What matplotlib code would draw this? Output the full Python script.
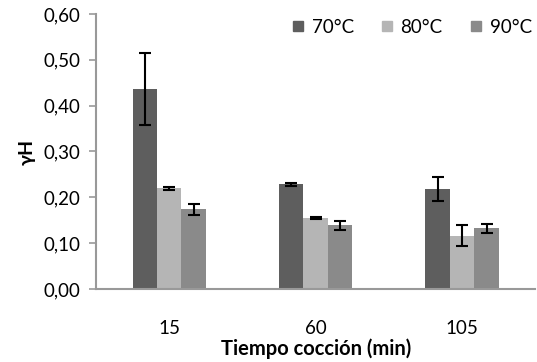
import matplotlib.pyplot as plt
from matplotlib.lines import Line2D
import numpy as np

tiempos = ["15", "60", "105"]
series = ["70°C", "80°C", "90°C"]
valores = [
    [0.436, 0.228, 0.218],  # 70°C
    [0.220, 0.154, 0.116],  # 80°C
    [0.174, 0.139, 0.132],  # 90°C
]
errores = [
    [0.078, 0.004, 0.027],
    [0.003, 0.002, 0.023],
    [0.012, 0.010, 0.009],
]
colores = ["#5e5e5e", "#b5b5b5", "#8a8a8a"]
yticks = [0.0, 0.1, 0.2, 0.3, 0.4, 0.5, 0.6]

plt.rcParams['font.family'] = ['Lato', 'DejaVu Sans']

fig = plt.figure(figsize=(5.37, 3.62), dpi=100)
ax = fig.add_axes([0.1788, 0.2017, 0.8182, 0.7596])

x = np.arange(len(tiempos))
w = 0.1672
for i, (nombre, vals, errs, col) in enumerate(zip(series, valores, errores, colores)):
    ax.bar(x + (i - 1) * w, vals, w, color=col, label=nombre,
           yerr=errs, error_kw=dict(ecolor="black", elinewidth=1.5, capsize=4, capthick=1.5))

ax.set_xlim(-0.5, 2.5)
ax.set_ylim(0, 0.6)
ax.set_xticks(x)
ax.set_xticklabels(tiempos, fontsize=13.5)
ax.set_yticks(yticks)
ax.set_yticklabels([f"{v:.2f}".replace(".", ",") for v in yticks], fontsize=13.5)
ax.tick_params(axis="x", length=0, pad=22)
ax.tick_params(axis="y", length=5, color="#999999", width=1.2, pad=6)
for s in ["top", "right"]:
    ax.spines[s].set_visible(False)
for s in ["left", "bottom"]:
    ax.spines[s].set_color("#999999")
    ax.spines[s].set_linewidth(1.5)

ax.set_ylabel("γH", fontsize=14, fontweight="bold", labelpad=6)
ax.set_xlabel("Tiempo cocción (min)", fontsize=14.5, fontweight="bold", labelpad=1)

# square legend markers like the original
handles = [Line2D([], [], linestyle="none", marker="s", markersize=7.5,
                  markerfacecolor=c, markeredgecolor=c) for c in colores]
ax.legend(handles, series, loc="upper right", ncol=3, frameon=False, fontsize=13.5,
          handlelength=0.6, handletextpad=0.45, columnspacing=1.45,
          bbox_to_anchor=(1.03, 1.045))

fig.savefig("out.png", dpi=100)
